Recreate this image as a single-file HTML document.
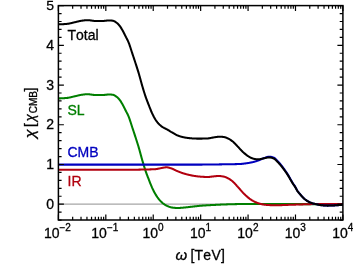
<!DOCTYPE html>
<html><head><meta charset="utf-8"><title>chart</title>
<style>html,body{margin:0;padding:0;background:#fff;overflow:hidden}svg{display:block;will-change:transform;opacity:0.999}</style>
</head><body>
<svg width="353" height="264" viewBox="0 0 353 264">
<line x1="58.4" y1="204.2" x2="342.9" y2="204.2" stroke="#a6a6a6" stroke-width="1.25"/>
<clipPath id="c"><rect x="58.4" y="5.6" width="284.5" height="214.4"/></clipPath>
<g clip-path="url(#c)" fill="none" stroke-linejoin="round" stroke-linecap="butt">
<path d="M58.40,98.40 L58.72,98.40 L59.03,98.40 L59.35,98.39 L59.67,98.39 L59.98,98.38 L60.30,98.37 L60.62,98.36 L60.93,98.35 L61.25,98.33 L61.56,98.32 L61.88,98.30 L62.20,98.29 L62.51,98.27 L62.83,98.25 L63.15,98.23 L63.46,98.21 L63.78,98.18 L64.10,98.16 L64.41,98.14 L64.73,98.11 L65.05,98.09 L65.36,98.06 L65.68,98.03 L66.00,98.01 L66.31,97.98 L66.63,97.95 L66.94,97.92 L67.26,97.89 L67.58,97.86 L67.89,97.82 L68.21,97.78 L68.53,97.73 L68.84,97.67 L69.16,97.61 L69.48,97.55 L69.79,97.48 L70.11,97.41 L70.43,97.34 L70.74,97.26 L71.06,97.19 L71.37,97.11 L71.69,97.03 L72.01,96.95 L72.32,96.87 L72.64,96.79 L72.96,96.71 L73.27,96.63 L73.59,96.55 L73.91,96.48 L74.22,96.41 L74.54,96.33 L74.86,96.27 L75.17,96.20 L75.49,96.13 L75.81,96.05 L76.12,95.98 L76.44,95.90 L76.75,95.83 L77.07,95.75 L77.39,95.67 L77.70,95.60 L78.02,95.52 L78.34,95.45 L78.65,95.37 L78.97,95.30 L79.29,95.23 L79.60,95.16 L79.92,95.09 L80.24,95.03 L80.55,94.97 L80.87,94.91 L81.19,94.85 L81.50,94.80 L81.82,94.75 L82.13,94.71 L82.45,94.67 L82.77,94.63 L83.08,94.58 L83.40,94.54 L83.72,94.50 L84.03,94.46 L84.35,94.42 L84.67,94.39 L84.98,94.35 L85.30,94.32 L85.62,94.29 L85.93,94.26 L86.25,94.24 L86.57,94.22 L86.88,94.21 L87.20,94.20 L87.51,94.20 L87.83,94.20 L88.15,94.22 L88.46,94.23 L88.78,94.26 L89.10,94.29 L89.41,94.32 L89.73,94.36 L90.05,94.40 L90.36,94.44 L90.68,94.49 L91.00,94.54 L91.31,94.59 L91.63,94.64 L91.95,94.68 L92.26,94.73 L92.58,94.78 L92.89,94.82 L93.21,94.86 L93.53,94.89 L93.84,94.93 L94.16,94.95 L94.48,94.98 L94.79,94.99 L95.11,95.00 L95.43,95.00 L95.74,95.00 L96.06,95.00 L96.38,95.00 L96.69,95.00 L97.01,95.00 L97.32,95.00 L97.64,95.00 L97.96,95.00 L98.27,95.00 L98.59,95.00 L98.91,95.00 L99.22,95.00 L99.54,95.00 L99.86,95.00 L100.17,95.00 L100.49,95.00 L100.81,95.00 L101.12,95.00 L101.44,95.00 L101.76,95.00 L102.07,95.00 L102.39,95.00 L102.70,95.00 L103.02,95.00 L103.34,94.99 L103.65,94.97 L103.97,94.95 L104.29,94.92 L104.60,94.89 L104.92,94.86 L105.24,94.82 L105.55,94.79 L105.87,94.75 L106.19,94.71 L106.50,94.67 L106.82,94.64 L107.14,94.61 L107.45,94.58 L107.77,94.55 L108.08,94.53 L108.40,94.51 L108.72,94.50 L109.03,94.50 L109.35,94.50 L109.67,94.51 L109.98,94.52 L110.30,94.53 L110.62,94.55 L110.93,94.57 L111.25,94.60 L111.57,94.63 L111.88,94.66 L112.20,94.69 L112.52,94.72 L112.83,94.76 L113.15,94.82 L113.46,94.91 L113.78,95.03 L114.10,95.18 L114.41,95.34 L114.73,95.52 L115.05,95.71 L115.36,95.92 L115.68,96.13 L116.00,96.35 L116.31,96.57 L116.63,96.79 L116.95,97.03 L117.26,97.30 L117.58,97.58 L117.89,97.89 L118.21,98.21 L118.53,98.55 L118.84,98.90 L119.16,99.27 L119.48,99.65 L119.79,100.04 L120.11,100.47 L120.43,100.92 L120.74,101.40 L121.06,101.90 L121.38,102.42 L121.69,102.96 L122.01,103.50 L122.33,104.05 L122.64,104.61 L122.96,105.17 L123.27,105.75 L123.59,106.36 L123.91,106.98 L124.22,107.61 L124.54,108.25 L124.86,108.89 L125.17,109.54 L125.49,110.18 L125.81,110.81 L126.12,111.44 L126.44,112.04 L126.76,112.64 L127.07,113.24 L127.39,113.85 L127.71,114.48 L128.02,115.15 L128.34,115.86 L128.65,116.62 L128.97,117.43 L129.29,118.28 L129.60,119.18 L129.92,120.11 L130.24,121.06 L130.55,122.04 L130.87,123.03 L131.19,124.03 L131.50,125.02 L131.82,126.01 L132.14,126.99 L132.45,127.96 L132.77,128.90 L133.09,129.85 L133.40,130.80 L133.72,131.76 L134.03,132.71 L134.35,133.67 L134.67,134.63 L134.98,135.60 L135.30,136.57 L135.62,137.55 L135.93,138.53 L136.25,139.51 L136.57,140.49 L136.88,141.47 L137.20,142.47 L137.52,143.47 L137.83,144.48 L138.15,145.51 L138.47,146.55 L138.78,147.61 L139.10,148.71 L139.41,149.83 L139.73,150.97 L140.05,152.13 L140.36,153.29 L140.68,154.46 L141.00,155.63 L141.31,156.80 L141.63,157.94 L141.95,159.08 L142.26,160.19 L142.58,161.27 L142.90,162.34 L143.21,163.40 L143.53,164.46 L143.84,165.51 L144.16,166.54 L144.48,167.56 L144.79,168.56 L145.11,169.54 L145.43,170.49 L145.74,171.42 L146.06,172.32 L146.38,173.20 L146.69,174.05 L147.01,174.90 L147.33,175.73 L147.64,176.55 L147.96,177.37 L148.28,178.18 L148.59,178.99 L148.91,179.82 L149.22,180.64 L149.54,181.46 L149.86,182.28 L150.17,183.09 L150.49,183.89 L150.81,184.69 L151.12,185.46 L151.44,186.22 L151.76,186.96 L152.07,187.68 L152.39,188.37 L152.71,189.03 L153.02,189.68 L153.34,190.32 L153.66,190.94 L153.97,191.55 L154.29,192.15 L154.60,192.73 L154.92,193.30 L155.24,193.85 L155.55,194.38 L155.87,194.90 L156.19,195.40 L156.50,195.89 L156.82,196.37 L157.14,196.83 L157.45,197.29 L157.77,197.73 L158.09,198.17 L158.40,198.59 L158.72,198.99 L159.04,199.39 L159.35,199.77 L159.67,200.13 L159.98,200.48 L160.30,200.82 L160.62,201.15 L160.93,201.47 L161.25,201.78 L161.57,202.09 L161.88,202.38 L162.20,202.66 L162.52,202.94 L162.83,203.20 L163.15,203.45 L163.47,203.69 L163.78,203.92 L164.10,204.15 L164.42,204.36 L164.73,204.58 L165.05,204.79 L165.36,204.99 L165.68,205.18 L166.00,205.36 L166.31,205.54 L166.63,205.70 L166.95,205.86 L167.26,206.00 L167.58,206.13 L167.90,206.26 L168.21,206.38 L168.53,206.50 L168.85,206.62 L169.16,206.74 L169.48,206.85 L169.79,206.96 L170.11,207.06 L170.43,207.15 L170.74,207.24 L171.06,207.33 L171.38,207.40 L171.69,207.47 L172.01,207.53 L172.33,207.58 L172.64,207.62 L172.96,207.66 L173.28,207.70 L173.59,207.73 L173.91,207.77 L174.23,207.80 L174.54,207.84 L174.86,207.87 L175.17,207.89 L175.49,207.92 L175.81,207.94 L176.12,207.96 L176.44,207.98 L176.76,207.99 L177.07,208.00 L177.39,208.00 L177.71,208.00 L178.02,208.00 L178.34,207.99 L178.66,207.98 L178.97,207.97 L179.29,207.95 L179.61,207.93 L179.92,207.91 L180.24,207.89 L180.55,207.87 L180.87,207.84 L181.19,207.82 L181.50,207.79 L181.82,207.77 L182.14,207.74 L182.45,207.71 L182.77,207.68 L183.09,207.66 L183.40,207.63 L183.72,207.60 L184.04,207.58 L184.35,207.55 L184.67,207.52 L184.99,207.49 L185.30,207.45 L185.62,207.42 L185.93,207.38 L186.25,207.35 L186.57,207.31 L186.88,207.27 L187.20,207.23 L187.52,207.19 L187.83,207.15 L188.15,207.12 L188.47,207.08 L188.78,207.04 L189.10,207.00 L189.42,206.97 L189.73,206.93 L190.05,206.89 L190.36,206.86 L190.68,206.83 L191.00,206.79 L191.31,206.75 L191.63,206.72 L191.95,206.68 L192.26,206.65 L192.58,206.61 L192.90,206.58 L193.21,206.54 L193.53,206.50 L193.85,206.47 L194.16,206.43 L194.48,206.39 L194.80,206.36 L195.11,206.32 L195.43,206.29 L195.74,206.25 L196.06,206.22 L196.38,206.18 L196.69,206.15 L197.01,206.11 L197.33,206.08 L197.64,206.04 L197.96,206.01 L198.28,205.98 L198.59,205.95 L198.91,205.91 L199.23,205.88 L199.54,205.85 L199.86,205.82 L200.18,205.79 L200.49,205.76 L200.81,205.74 L201.12,205.71 L201.44,205.68 L201.76,205.66 L202.07,205.63 L202.39,205.61 L202.71,205.59 L203.02,205.56 L203.34,205.54 L203.66,205.52 L203.97,205.50 L204.29,205.48 L204.61,205.46 L204.92,205.44 L205.24,205.42 L205.56,205.40 L205.87,205.38 L206.19,205.36 L206.50,205.34 L206.82,205.32 L207.14,205.30 L207.45,205.29 L207.77,205.27 L208.09,205.25 L208.40,205.23 L208.72,205.22 L209.04,205.20 L209.35,205.18 L209.67,205.17 L209.99,205.15 L210.30,205.13 L210.62,205.12 L210.94,205.10 L211.25,205.09 L211.57,205.07 L211.88,205.05 L212.20,205.04 L212.52,205.02 L212.83,205.01 L213.15,204.99 L213.47,204.98 L213.78,204.96 L214.10,204.94 L214.42,204.93 L214.73,204.91 L215.05,204.90 L215.37,204.88 L215.68,204.87 L216.00,204.85 L216.31,204.83 L216.63,204.82 L216.95,204.80 L217.26,204.78 L217.58,204.77 L217.90,204.75 L218.21,204.74 L218.53,204.72 L218.85,204.70 L219.16,204.69 L219.48,204.67 L219.80,204.66 L220.11,204.64 L220.43,204.63 L220.75,204.61 L221.06,204.60 L221.38,204.58 L221.69,204.57 L222.01,204.55 L222.33,204.54 L222.64,204.52 L222.96,204.51 L223.28,204.50 L223.59,204.48 L223.91,204.47 L224.23,204.46 L224.54,204.45 L224.86,204.44 L225.18,204.43 L225.49,204.42 L225.81,204.41 L226.13,204.40 L226.44,204.39 L226.76,204.38 L227.07,204.37 L227.39,204.36 L227.71,204.35 L228.02,204.34 L228.34,204.33 L228.66,204.32 L228.97,204.31 L229.29,204.30 L229.61,204.29 L229.92,204.28 L230.24,204.27 L230.56,204.26 L230.87,204.25 L231.19,204.25 L231.51,204.24 L231.82,204.23 L232.14,204.22 L232.45,204.21 L232.77,204.20 L233.09,204.19 L233.40,204.18 L233.72,204.17 L234.04,204.17 L234.35,204.16 L234.67,204.15 L234.99,204.14 L235.30,204.13 L235.62,204.13 L235.94,204.12 L236.25,204.11 L236.57,204.10 L236.88,204.10 L237.20,204.09 L237.52,204.08 L237.83,204.08 L238.15,204.07 L238.47,204.07 L238.78,204.06 L239.10,204.05 L239.42,204.05 L239.73,204.04 L240.05,204.04 L240.37,204.03 L240.68,204.03 L241.00,204.03 L241.32,204.02 L241.63,204.02 L241.95,204.02 L242.26,204.01 L242.58,204.01 L242.90,204.01 L243.21,204.01 L243.53,204.00 L243.85,204.00 L244.16,204.00 L244.48,204.00 L244.80,204.00 L245.11,204.00 L245.43,204.00 L245.75,204.00 L246.06,204.00 L246.38,204.00 L246.70,204.00 L247.01,204.00 L247.33,204.00 L247.64,204.00 L247.96,204.00 L248.28,204.00 L248.59,204.00 L248.91,204.00 L249.23,204.00 L249.54,204.00 L249.86,204.00 L250.18,204.00 L250.49,204.00 L250.81,204.00 L251.13,204.00 L251.44,204.00 L251.76,204.00 L252.08,204.00 L252.39,204.00 L252.71,204.00 L253.02,204.00 L253.34,204.00 L253.66,204.00 L253.97,204.00 L254.29,204.00 L254.61,204.00 L254.92,204.00 L255.24,204.00 L255.56,204.00 L255.87,204.00 L256.19,204.00 L256.51,204.00 L256.82,204.00 L257.14,204.00 L257.46,204.00 L257.77,204.00 L258.09,204.00 L258.40,204.00 L258.72,204.00 L259.04,204.00 L259.35,204.00 L259.67,204.00 L259.99,204.00 L260.30,204.00 L260.62,204.00 L260.94,204.00 L261.25,204.00 L261.57,204.00 L261.89,204.00 L262.20,204.00 L262.52,204.00 L262.83,204.00 L263.15,204.00 L263.47,204.00 L263.78,204.00 L264.10,204.00 L264.42,204.00 L264.73,204.00 L265.05,204.00 L265.37,204.00 L265.68,204.00 L266.00,204.00 L266.32,204.00 L266.63,204.00 L266.95,204.00 L267.27,204.00 L267.58,204.00 L267.90,204.00 L268.21,204.00 L268.53,204.00 L268.85,204.00 L269.16,204.00 L269.48,204.00 L269.80,204.00 L270.11,204.00 L270.43,204.00 L270.75,204.00 L271.06,204.00 L271.38,204.00 L271.70,204.00 L272.01,204.00 L272.33,204.00 L272.65,204.00 L272.96,204.00 L273.28,204.00 L273.59,204.00 L273.91,204.00 L274.23,204.00 L274.54,204.00 L274.86,204.01 L275.18,204.01 L275.49,204.01 L275.81,204.01 L276.13,204.01 L276.44,204.01 L276.76,204.01 L277.08,204.01 L277.39,204.01 L277.71,204.01 L278.03,204.01 L278.34,204.01 L278.66,204.02 L278.97,204.02 L279.29,204.02 L279.61,204.02 L279.92,204.02 L280.24,204.02 L280.56,204.02 L280.87,204.02 L281.19,204.02 L281.51,204.03 L281.82,204.03 L282.14,204.03 L282.46,204.03 L282.77,204.03 L283.09,204.03 L283.41,204.03 L283.72,204.03 L284.04,204.04 L284.35,204.04 L284.67,204.04 L284.99,204.04 L285.30,204.04 L285.62,204.04 L285.94,204.04 L286.25,204.05 L286.57,204.05 L286.89,204.05 L287.20,204.05 L287.52,204.05 L287.84,204.05 L288.15,204.05 L288.47,204.05 L288.78,204.06 L289.10,204.06 L289.42,204.06 L289.73,204.06 L290.05,204.06 L290.37,204.06 L290.68,204.06 L291.00,204.07 L291.32,204.07 L291.63,204.07 L291.95,204.07 L292.27,204.07 L292.58,204.07 L292.90,204.07 L293.22,204.08 L293.53,204.08 L293.85,204.08 L294.16,204.08 L294.48,204.08 L294.80,204.08 L295.11,204.08 L295.43,204.08 L295.75,204.09 L296.06,204.09 L296.38,204.09 L296.70,204.09 L297.01,204.09 L297.33,204.09 L297.65,204.09 L297.96,204.09 L298.28,204.09 L298.60,204.10 L298.91,204.10 L299.23,204.10 L299.54,204.10 L299.86,204.10 L300.18,204.10 L300.49,204.10 L300.81,204.10 L301.13,204.10 L301.44,204.10 L301.76,204.10 L302.08,204.11 L302.39,204.11 L302.71,204.11 L303.03,204.11 L303.34,204.11 L303.66,204.11 L303.98,204.11 L304.29,204.11 L304.61,204.11 L304.92,204.11 L305.24,204.11 L305.56,204.12 L305.87,204.12 L306.19,204.12 L306.51,204.12 L306.82,204.12 L307.14,204.12 L307.46,204.12 L307.77,204.12 L308.09,204.12 L308.41,204.12 L308.72,204.12 L309.04,204.12 L309.35,204.13 L309.67,204.13 L309.99,204.13 L310.30,204.13 L310.62,204.13 L310.94,204.13 L311.25,204.13 L311.57,204.13 L311.89,204.13 L312.20,204.13 L312.52,204.13 L312.84,204.13 L313.15,204.14 L313.47,204.14 L313.79,204.14 L314.10,204.14 L314.42,204.14 L314.73,204.14 L315.05,204.14 L315.37,204.14 L315.68,204.14 L316.00,204.14 L316.32,204.14 L316.63,204.14 L316.95,204.14 L317.27,204.15 L317.58,204.15 L317.90,204.15 L318.22,204.15 L318.53,204.15 L318.85,204.15 L319.17,204.15 L319.48,204.15 L319.80,204.15 L320.11,204.15 L320.43,204.15 L320.75,204.15 L321.06,204.15 L321.38,204.16 L321.70,204.16 L322.01,204.16 L322.33,204.16 L322.65,204.16 L322.96,204.16 L323.28,204.16 L323.60,204.16 L323.91,204.16 L324.23,204.16 L324.55,204.16 L324.86,204.16 L325.18,204.16 L325.49,204.16 L325.81,204.17 L326.13,204.17 L326.44,204.17 L326.76,204.17 L327.08,204.17 L327.39,204.17 L327.71,204.17 L328.03,204.17 L328.34,204.17 L328.66,204.17 L328.98,204.17 L329.29,204.17 L329.61,204.17 L329.93,204.17 L330.24,204.18 L330.56,204.18 L330.87,204.18 L331.19,204.18 L331.51,204.18 L331.82,204.18 L332.14,204.18 L332.46,204.18 L332.77,204.18 L333.09,204.18 L333.41,204.18 L333.72,204.18 L334.04,204.18 L334.36,204.18 L334.67,204.18 L334.99,204.19 L335.30,204.19 L335.62,204.19 L335.94,204.19 L336.25,204.19 L336.57,204.19 L336.89,204.19 L337.20,204.19 L337.52,204.19 L337.84,204.19 L338.15,204.19 L338.47,204.19 L338.79,204.19 L339.10,204.19 L339.42,204.19 L339.74,204.19 L340.05,204.19 L340.37,204.20 L340.68,204.20 L341.00,204.20 L341.32,204.20 L341.63,204.20 L341.95,204.20 L342.27,204.20 L342.58,204.20 L342.90,204.20" stroke="#007f00" stroke-width="2.05"/>
<path d="M58.40,169.75 L58.72,169.75 L59.03,169.75 L59.35,169.75 L59.67,169.75 L59.98,169.75 L60.30,169.75 L60.62,169.75 L60.93,169.75 L61.25,169.75 L61.56,169.75 L61.88,169.75 L62.20,169.75 L62.51,169.75 L62.83,169.75 L63.15,169.75 L63.46,169.75 L63.78,169.75 L64.10,169.75 L64.41,169.75 L64.73,169.75 L65.05,169.75 L65.36,169.75 L65.68,169.75 L66.00,169.75 L66.31,169.75 L66.63,169.75 L66.94,169.75 L67.26,169.75 L67.58,169.75 L67.89,169.75 L68.21,169.75 L68.53,169.75 L68.84,169.75 L69.16,169.75 L69.48,169.75 L69.79,169.75 L70.11,169.75 L70.43,169.75 L70.74,169.75 L71.06,169.75 L71.37,169.75 L71.69,169.75 L72.01,169.75 L72.32,169.75 L72.64,169.75 L72.96,169.75 L73.27,169.75 L73.59,169.75 L73.91,169.75 L74.22,169.75 L74.54,169.75 L74.86,169.75 L75.17,169.75 L75.49,169.75 L75.81,169.75 L76.12,169.75 L76.44,169.75 L76.75,169.75 L77.07,169.75 L77.39,169.75 L77.70,169.75 L78.02,169.75 L78.34,169.75 L78.65,169.75 L78.97,169.75 L79.29,169.75 L79.60,169.75 L79.92,169.75 L80.24,169.75 L80.55,169.75 L80.87,169.75 L81.19,169.75 L81.50,169.75 L81.82,169.75 L82.13,169.75 L82.45,169.75 L82.77,169.75 L83.08,169.75 L83.40,169.75 L83.72,169.75 L84.03,169.75 L84.35,169.75 L84.67,169.75 L84.98,169.75 L85.30,169.75 L85.62,169.75 L85.93,169.75 L86.25,169.75 L86.57,169.75 L86.88,169.75 L87.20,169.75 L87.51,169.75 L87.83,169.75 L88.15,169.75 L88.46,169.75 L88.78,169.75 L89.10,169.75 L89.41,169.75 L89.73,169.75 L90.05,169.75 L90.36,169.75 L90.68,169.75 L91.00,169.75 L91.31,169.75 L91.63,169.75 L91.95,169.75 L92.26,169.75 L92.58,169.75 L92.89,169.75 L93.21,169.75 L93.53,169.75 L93.84,169.75 L94.16,169.75 L94.48,169.75 L94.79,169.75 L95.11,169.75 L95.43,169.75 L95.74,169.75 L96.06,169.75 L96.38,169.75 L96.69,169.75 L97.01,169.75 L97.32,169.75 L97.64,169.75 L97.96,169.75 L98.27,169.75 L98.59,169.75 L98.91,169.75 L99.22,169.75 L99.54,169.75 L99.86,169.75 L100.17,169.75 L100.49,169.75 L100.81,169.75 L101.12,169.75 L101.44,169.75 L101.76,169.75 L102.07,169.75 L102.39,169.75 L102.70,169.75 L103.02,169.75 L103.34,169.75 L103.65,169.75 L103.97,169.75 L104.29,169.75 L104.60,169.75 L104.92,169.75 L105.24,169.75 L105.55,169.75 L105.87,169.75 L106.19,169.75 L106.50,169.75 L106.82,169.75 L107.14,169.75 L107.45,169.75 L107.77,169.75 L108.08,169.75 L108.40,169.75 L108.72,169.75 L109.03,169.75 L109.35,169.75 L109.67,169.75 L109.98,169.75 L110.30,169.75 L110.62,169.75 L110.93,169.75 L111.25,169.75 L111.57,169.75 L111.88,169.75 L112.20,169.75 L112.52,169.75 L112.83,169.75 L113.15,169.75 L113.46,169.75 L113.78,169.75 L114.10,169.75 L114.41,169.75 L114.73,169.75 L115.05,169.75 L115.36,169.75 L115.68,169.75 L116.00,169.75 L116.31,169.75 L116.63,169.75 L116.95,169.75 L117.26,169.75 L117.58,169.75 L117.89,169.75 L118.21,169.75 L118.53,169.75 L118.84,169.75 L119.16,169.75 L119.48,169.75 L119.79,169.75 L120.11,169.75 L120.43,169.75 L120.74,169.75 L121.06,169.75 L121.38,169.75 L121.69,169.75 L122.01,169.75 L122.33,169.75 L122.64,169.75 L122.96,169.75 L123.27,169.75 L123.59,169.75 L123.91,169.75 L124.22,169.75 L124.54,169.75 L124.86,169.75 L125.17,169.75 L125.49,169.75 L125.81,169.75 L126.12,169.75 L126.44,169.75 L126.76,169.75 L127.07,169.75 L127.39,169.75 L127.71,169.75 L128.02,169.75 L128.34,169.75 L128.65,169.75 L128.97,169.75 L129.29,169.75 L129.60,169.75 L129.92,169.75 L130.24,169.75 L130.55,169.75 L130.87,169.75 L131.19,169.75 L131.50,169.75 L131.82,169.74 L132.14,169.74 L132.45,169.74 L132.77,169.74 L133.09,169.73 L133.40,169.73 L133.72,169.73 L134.03,169.72 L134.35,169.72 L134.67,169.71 L134.98,169.71 L135.30,169.70 L135.62,169.70 L135.93,169.69 L136.25,169.69 L136.57,169.68 L136.88,169.68 L137.20,169.67 L137.52,169.67 L137.83,169.66 L138.15,169.65 L138.47,169.65 L138.78,169.64 L139.10,169.63 L139.41,169.63 L139.73,169.62 L140.05,169.61 L140.36,169.61 L140.68,169.60 L141.00,169.59 L141.31,169.58 L141.63,169.58 L141.95,169.57 L142.26,169.56 L142.58,169.55 L142.90,169.55 L143.21,169.54 L143.53,169.53 L143.84,169.53 L144.16,169.52 L144.48,169.51 L144.79,169.50 L145.11,169.50 L145.43,169.49 L145.74,169.48 L146.06,169.48 L146.38,169.47 L146.69,169.46 L147.01,169.46 L147.33,169.45 L147.64,169.44 L147.96,169.44 L148.28,169.43 L148.59,169.42 L148.91,169.42 L149.22,169.41 L149.54,169.40 L149.86,169.39 L150.17,169.39 L150.49,169.38 L150.81,169.37 L151.12,169.36 L151.44,169.35 L151.76,169.34 L152.07,169.33 L152.39,169.32 L152.71,169.31 L153.02,169.29 L153.34,169.28 L153.66,169.27 L153.97,169.25 L154.29,169.24 L154.60,169.22 L154.92,169.20 L155.24,169.18 L155.55,169.16 L155.87,169.12 L156.19,169.08 L156.50,169.04 L156.82,168.99 L157.14,168.93 L157.45,168.87 L157.77,168.81 L158.09,168.74 L158.40,168.68 L158.72,168.61 L159.04,168.54 L159.35,168.47 L159.67,168.40 L159.98,168.34 L160.30,168.27 L160.62,168.21 L160.93,168.15 L161.25,168.10 L161.57,168.05 L161.88,167.99 L162.20,167.93 L162.52,167.86 L162.83,167.80 L163.15,167.74 L163.47,167.67 L163.78,167.61 L164.10,167.55 L164.42,167.50 L164.73,167.45 L165.05,167.40 L165.36,167.36 L165.68,167.33 L166.00,167.31 L166.31,167.30 L166.63,167.30 L166.95,167.32 L167.26,167.35 L167.58,167.39 L167.90,167.44 L168.21,167.51 L168.53,167.58 L168.85,167.66 L169.16,167.75 L169.48,167.85 L169.79,167.94 L170.11,168.04 L170.43,168.14 L170.74,168.24 L171.06,168.34 L171.38,168.44 L171.69,168.54 L172.01,168.66 L172.33,168.78 L172.64,168.91 L172.96,169.05 L173.28,169.19 L173.59,169.34 L173.91,169.49 L174.23,169.65 L174.54,169.80 L174.86,169.96 L175.17,170.12 L175.49,170.28 L175.81,170.43 L176.12,170.59 L176.44,170.74 L176.76,170.88 L177.07,171.02 L177.39,171.16 L177.71,171.28 L178.02,171.41 L178.34,171.54 L178.66,171.66 L178.97,171.79 L179.29,171.92 L179.61,172.04 L179.92,172.16 L180.24,172.28 L180.55,172.40 L180.87,172.52 L181.19,172.64 L181.50,172.75 L181.82,172.87 L182.14,172.98 L182.45,173.08 L182.77,173.19 L183.09,173.29 L183.40,173.39 L183.72,173.49 L184.04,173.59 L184.35,173.68 L184.67,173.77 L184.99,173.86 L185.30,173.95 L185.62,174.04 L185.93,174.13 L186.25,174.21 L186.57,174.29 L186.88,174.38 L187.20,174.46 L187.52,174.53 L187.83,174.61 L188.15,174.69 L188.47,174.76 L188.78,174.83 L189.10,174.91 L189.42,174.98 L189.73,175.04 L190.05,175.11 L190.36,175.18 L190.68,175.24 L191.00,175.31 L191.31,175.37 L191.63,175.43 L191.95,175.49 L192.26,175.56 L192.58,175.62 L192.90,175.67 L193.21,175.73 L193.53,175.79 L193.85,175.84 L194.16,175.90 L194.48,175.95 L194.80,176.00 L195.11,176.04 L195.43,176.09 L195.74,176.13 L196.06,176.18 L196.38,176.22 L196.69,176.25 L197.01,176.29 L197.33,176.33 L197.64,176.37 L197.96,176.40 L198.28,176.44 L198.59,176.47 L198.91,176.51 L199.23,176.54 L199.54,176.57 L199.86,176.60 L200.18,176.63 L200.49,176.66 L200.81,176.69 L201.12,176.71 L201.44,176.73 L201.76,176.76 L202.07,176.78 L202.39,176.79 L202.71,176.81 L203.02,176.83 L203.34,176.84 L203.66,176.86 L203.97,176.88 L204.29,176.89 L204.61,176.91 L204.92,176.92 L205.24,176.94 L205.56,176.95 L205.87,176.96 L206.19,176.97 L206.50,176.98 L206.82,176.99 L207.14,176.99 L207.45,177.00 L207.77,177.00 L208.09,177.00 L208.40,176.99 L208.72,176.97 L209.04,176.95 L209.35,176.92 L209.67,176.88 L209.99,176.84 L210.30,176.80 L210.62,176.75 L210.94,176.70 L211.25,176.66 L211.57,176.61 L211.88,176.57 L212.20,176.53 L212.52,176.50 L212.83,176.47 L213.15,176.44 L213.47,176.40 L213.78,176.37 L214.10,176.34 L214.42,176.30 L214.73,176.27 L215.05,176.23 L215.37,176.20 L215.68,176.17 L216.00,176.14 L216.31,176.11 L216.63,176.09 L216.95,176.07 L217.26,176.05 L217.58,176.03 L217.90,176.02 L218.21,176.01 L218.53,176.00 L218.85,176.00 L219.16,176.01 L219.48,176.02 L219.80,176.04 L220.11,176.06 L220.43,176.09 L220.75,176.12 L221.06,176.16 L221.38,176.20 L221.69,176.25 L222.01,176.29 L222.33,176.35 L222.64,176.40 L222.96,176.46 L223.28,176.51 L223.59,176.57 L223.91,176.63 L224.23,176.70 L224.54,176.79 L224.86,176.89 L225.18,176.99 L225.49,177.11 L225.81,177.24 L226.13,177.37 L226.44,177.51 L226.76,177.66 L227.07,177.82 L227.39,177.97 L227.71,178.13 L228.02,178.30 L228.34,178.46 L228.66,178.63 L228.97,178.80 L229.29,178.99 L229.61,179.19 L229.92,179.39 L230.24,179.60 L230.56,179.83 L230.87,180.06 L231.19,180.30 L231.51,180.54 L231.82,180.79 L232.14,181.05 L232.45,181.31 L232.77,181.58 L233.09,181.85 L233.40,182.14 L233.72,182.44 L234.04,182.75 L234.35,183.07 L234.67,183.40 L234.99,183.74 L235.30,184.08 L235.62,184.43 L235.94,184.79 L236.25,185.14 L236.57,185.50 L236.88,185.86 L237.20,186.21 L237.52,186.56 L237.83,186.91 L238.15,187.25 L238.47,187.60 L238.78,187.95 L239.10,188.30 L239.42,188.66 L239.73,189.02 L240.05,189.39 L240.37,189.75 L240.68,190.12 L241.00,190.48 L241.32,190.84 L241.63,191.20 L241.95,191.56 L242.26,191.92 L242.58,192.27 L242.90,192.61 L243.21,192.95 L243.53,193.28 L243.85,193.61 L244.16,193.92 L244.48,194.23 L244.80,194.53 L245.11,194.83 L245.43,195.13 L245.75,195.43 L246.06,195.72 L246.38,196.01 L246.70,196.30 L247.01,196.58 L247.33,196.86 L247.64,197.13 L247.96,197.40 L248.28,197.67 L248.59,197.93 L248.91,198.18 L249.23,198.42 L249.54,198.66 L249.86,198.89 L250.18,199.12 L250.49,199.33 L250.81,199.54 L251.13,199.74 L251.44,199.94 L251.76,200.13 L252.08,200.32 L252.39,200.51 L252.71,200.70 L253.02,200.88 L253.34,201.05 L253.66,201.23 L253.97,201.39 L254.29,201.56 L254.61,201.72 L254.92,201.87 L255.24,202.02 L255.56,202.16 L255.87,202.30 L256.19,202.44 L256.51,202.56 L256.82,202.68 L257.14,202.80 L257.46,202.91 L257.77,203.03 L258.09,203.14 L258.40,203.25 L258.72,203.35 L259.04,203.46 L259.35,203.56 L259.67,203.66 L259.99,203.76 L260.30,203.85 L260.62,203.94 L260.94,204.02 L261.25,204.10 L261.57,204.18 L261.89,204.25 L262.20,204.32 L262.52,204.38 L262.83,204.44 L263.15,204.49 L263.47,204.53 L263.78,204.57 L264.10,204.62 L264.42,204.66 L264.73,204.70 L265.05,204.74 L265.37,204.77 L265.68,204.81 L266.00,204.84 L266.32,204.88 L266.63,204.91 L266.95,204.94 L267.27,204.96 L267.58,204.99 L267.90,205.01 L268.21,205.03 L268.53,205.05 L268.85,205.07 L269.16,205.09 L269.48,205.10 L269.80,205.11 L270.11,205.12 L270.43,205.13 L270.75,205.15 L271.06,205.16 L271.38,205.17 L271.70,205.18 L272.01,205.19 L272.33,205.20 L272.65,205.21 L272.96,205.21 L273.28,205.22 L273.59,205.23 L273.91,205.23 L274.23,205.24 L274.54,205.24 L274.86,205.25 L275.18,205.25 L275.49,205.25 L275.81,205.25 L276.13,205.25 L276.44,205.25 L276.76,205.25 L277.08,205.24 L277.39,205.24 L277.71,205.23 L278.03,205.23 L278.34,205.22 L278.66,205.22 L278.97,205.21 L279.29,205.20 L279.61,205.19 L279.92,205.18 L280.24,205.18 L280.56,205.17 L280.87,205.16 L281.19,205.14 L281.51,205.13 L281.82,205.12 L282.14,205.11 L282.46,205.10 L282.77,205.09 L283.09,205.07 L283.41,205.06 L283.72,205.05 L284.04,205.04 L284.35,205.02 L284.67,205.01 L284.99,205.00 L285.30,204.98 L285.62,204.97 L285.94,204.96 L286.25,204.94 L286.57,204.93 L286.89,204.92 L287.20,204.90 L287.52,204.89 L287.84,204.88 L288.15,204.87 L288.47,204.85 L288.78,204.84 L289.10,204.83 L289.42,204.82 L289.73,204.81 L290.05,204.80 L290.37,204.79 L290.68,204.78 L291.00,204.77 L291.32,204.76 L291.63,204.75 L291.95,204.74 L292.27,204.72 L292.58,204.71 L292.90,204.70 L293.22,204.69 L293.53,204.68 L293.85,204.67 L294.16,204.66 L294.48,204.65 L294.80,204.64 L295.11,204.63 L295.43,204.62 L295.75,204.61 L296.06,204.59 L296.38,204.58 L296.70,204.57 L297.01,204.56 L297.33,204.55 L297.65,204.54 L297.96,204.53 L298.28,204.52 L298.60,204.51 L298.91,204.50 L299.23,204.49 L299.54,204.47 L299.86,204.46 L300.18,204.45 L300.49,204.44 L300.81,204.43 L301.13,204.42 L301.44,204.41 L301.76,204.40 L302.08,204.39 L302.39,204.38 L302.71,204.37 L303.03,204.36 L303.34,204.35 L303.66,204.34 L303.98,204.33 L304.29,204.32 L304.61,204.31 L304.92,204.30 L305.24,204.29 L305.56,204.28 L305.87,204.27 L306.19,204.26 L306.51,204.25 L306.82,204.24 L307.14,204.23 L307.46,204.22 L307.77,204.21 L308.09,204.20 L308.41,204.19 L308.72,204.18 L309.04,204.16 L309.35,204.15 L309.67,204.14 L309.99,204.13 L310.30,204.12 L310.62,204.11 L310.94,204.10 L311.25,204.09 L311.57,204.08 L311.89,204.06 L312.20,204.05 L312.52,204.04 L312.84,204.03 L313.15,204.02 L313.47,204.01 L313.79,204.00 L314.10,204.00 L314.42,203.99 L314.73,203.98 L315.05,203.97 L315.37,203.96 L315.68,203.95 L316.00,203.95 L316.32,203.94 L316.63,203.93 L316.95,203.93 L317.27,203.92 L317.58,203.92 L317.90,203.91 L318.22,203.91 L318.53,203.91 L318.85,203.90 L319.17,203.90 L319.48,203.90 L319.80,203.90 L320.11,203.90 L320.43,203.90 L320.75,203.90 L321.06,203.90 L321.38,203.90 L321.70,203.90 L322.01,203.90 L322.33,203.90 L322.65,203.90 L322.96,203.90 L323.28,203.90 L323.60,203.90 L323.91,203.90 L324.23,203.90 L324.55,203.90 L324.86,203.90 L325.18,203.90 L325.49,203.90 L325.81,203.90 L326.13,203.90 L326.44,203.90 L326.76,203.90 L327.08,203.90 L327.39,203.90 L327.71,203.90 L328.03,203.90 L328.34,203.90 L328.66,203.90 L328.98,203.90 L329.29,203.90 L329.61,203.90 L329.93,203.90 L330.24,203.90 L330.56,203.90 L330.87,203.90 L331.19,203.90 L331.51,203.90 L331.82,203.90 L332.14,203.90 L332.46,203.90 L332.77,203.90 L333.09,203.90 L333.41,203.90 L333.72,203.90 L334.04,203.90 L334.36,203.90 L334.67,203.90 L334.99,203.90 L335.30,203.90 L335.62,203.90 L335.94,203.90 L336.25,203.91 L336.57,203.91 L336.89,203.92 L337.20,203.92 L337.52,203.93 L337.84,203.94 L338.15,203.94 L338.47,203.95 L338.79,203.96 L339.10,203.97 L339.42,203.98 L339.74,203.99 L340.05,204.00 L340.37,204.01 L340.68,204.02 L341.00,204.03 L341.32,204.04 L341.63,204.06 L341.95,204.07 L342.27,204.08 L342.58,204.09 L342.90,204.10" stroke="#b2000f" stroke-width="2.05"/>
<path d="M58.40,164.60 L58.72,164.60 L59.03,164.60 L59.35,164.60 L59.67,164.60 L59.98,164.60 L60.30,164.60 L60.62,164.60 L60.93,164.60 L61.25,164.60 L61.56,164.60 L61.88,164.60 L62.20,164.60 L62.51,164.60 L62.83,164.60 L63.15,164.60 L63.46,164.60 L63.78,164.60 L64.10,164.60 L64.41,164.60 L64.73,164.60 L65.05,164.60 L65.36,164.60 L65.68,164.60 L66.00,164.60 L66.31,164.60 L66.63,164.60 L66.94,164.60 L67.26,164.60 L67.58,164.60 L67.89,164.60 L68.21,164.60 L68.53,164.60 L68.84,164.60 L69.16,164.60 L69.48,164.60 L69.79,164.60 L70.11,164.60 L70.43,164.60 L70.74,164.60 L71.06,164.60 L71.37,164.60 L71.69,164.60 L72.01,164.60 L72.32,164.60 L72.64,164.60 L72.96,164.60 L73.27,164.60 L73.59,164.60 L73.91,164.60 L74.22,164.60 L74.54,164.60 L74.86,164.60 L75.17,164.60 L75.49,164.60 L75.81,164.60 L76.12,164.60 L76.44,164.60 L76.75,164.60 L77.07,164.60 L77.39,164.60 L77.70,164.60 L78.02,164.60 L78.34,164.60 L78.65,164.60 L78.97,164.60 L79.29,164.60 L79.60,164.60 L79.92,164.60 L80.24,164.60 L80.55,164.60 L80.87,164.60 L81.19,164.60 L81.50,164.60 L81.82,164.60 L82.13,164.60 L82.45,164.60 L82.77,164.60 L83.08,164.60 L83.40,164.60 L83.72,164.60 L84.03,164.60 L84.35,164.60 L84.67,164.60 L84.98,164.60 L85.30,164.60 L85.62,164.60 L85.93,164.60 L86.25,164.60 L86.57,164.60 L86.88,164.60 L87.20,164.60 L87.51,164.60 L87.83,164.60 L88.15,164.60 L88.46,164.60 L88.78,164.60 L89.10,164.60 L89.41,164.60 L89.73,164.60 L90.05,164.60 L90.36,164.60 L90.68,164.60 L91.00,164.60 L91.31,164.60 L91.63,164.60 L91.95,164.60 L92.26,164.60 L92.58,164.60 L92.89,164.60 L93.21,164.60 L93.53,164.60 L93.84,164.60 L94.16,164.60 L94.48,164.60 L94.79,164.60 L95.11,164.60 L95.43,164.60 L95.74,164.60 L96.06,164.60 L96.38,164.60 L96.69,164.60 L97.01,164.60 L97.32,164.60 L97.64,164.60 L97.96,164.60 L98.27,164.60 L98.59,164.60 L98.91,164.60 L99.22,164.60 L99.54,164.60 L99.86,164.60 L100.17,164.60 L100.49,164.60 L100.81,164.60 L101.12,164.60 L101.44,164.60 L101.76,164.60 L102.07,164.60 L102.39,164.60 L102.70,164.60 L103.02,164.60 L103.34,164.60 L103.65,164.60 L103.97,164.60 L104.29,164.60 L104.60,164.60 L104.92,164.60 L105.24,164.60 L105.55,164.60 L105.87,164.60 L106.19,164.60 L106.50,164.60 L106.82,164.60 L107.14,164.60 L107.45,164.60 L107.77,164.60 L108.08,164.60 L108.40,164.60 L108.72,164.60 L109.03,164.60 L109.35,164.60 L109.67,164.60 L109.98,164.60 L110.30,164.60 L110.62,164.60 L110.93,164.60 L111.25,164.60 L111.57,164.60 L111.88,164.60 L112.20,164.60 L112.52,164.60 L112.83,164.60 L113.15,164.60 L113.46,164.60 L113.78,164.60 L114.10,164.60 L114.41,164.60 L114.73,164.60 L115.05,164.60 L115.36,164.60 L115.68,164.60 L116.00,164.60 L116.31,164.60 L116.63,164.60 L116.95,164.60 L117.26,164.60 L117.58,164.60 L117.89,164.60 L118.21,164.60 L118.53,164.60 L118.84,164.60 L119.16,164.60 L119.48,164.60 L119.79,164.60 L120.11,164.60 L120.43,164.60 L120.74,164.60 L121.06,164.60 L121.38,164.60 L121.69,164.60 L122.01,164.60 L122.33,164.60 L122.64,164.60 L122.96,164.60 L123.27,164.60 L123.59,164.60 L123.91,164.60 L124.22,164.60 L124.54,164.60 L124.86,164.60 L125.17,164.60 L125.49,164.60 L125.81,164.60 L126.12,164.60 L126.44,164.60 L126.76,164.60 L127.07,164.60 L127.39,164.60 L127.71,164.60 L128.02,164.60 L128.34,164.60 L128.65,164.60 L128.97,164.60 L129.29,164.60 L129.60,164.60 L129.92,164.60 L130.24,164.60 L130.55,164.60 L130.87,164.60 L131.19,164.60 L131.50,164.60 L131.82,164.60 L132.14,164.60 L132.45,164.60 L132.77,164.60 L133.09,164.60 L133.40,164.60 L133.72,164.60 L134.03,164.60 L134.35,164.60 L134.67,164.60 L134.98,164.60 L135.30,164.60 L135.62,164.60 L135.93,164.60 L136.25,164.60 L136.57,164.60 L136.88,164.60 L137.20,164.60 L137.52,164.60 L137.83,164.60 L138.15,164.60 L138.47,164.60 L138.78,164.60 L139.10,164.60 L139.41,164.60 L139.73,164.60 L140.05,164.60 L140.36,164.60 L140.68,164.60 L141.00,164.60 L141.31,164.60 L141.63,164.60 L141.95,164.60 L142.26,164.60 L142.58,164.60 L142.90,164.60 L143.21,164.60 L143.53,164.60 L143.84,164.60 L144.16,164.60 L144.48,164.60 L144.79,164.60 L145.11,164.60 L145.43,164.60 L145.74,164.60 L146.06,164.60 L146.38,164.60 L146.69,164.60 L147.01,164.60 L147.33,164.60 L147.64,164.60 L147.96,164.60 L148.28,164.60 L148.59,164.60 L148.91,164.60 L149.22,164.60 L149.54,164.60 L149.86,164.60 L150.17,164.60 L150.49,164.60 L150.81,164.60 L151.12,164.60 L151.44,164.60 L151.76,164.60 L152.07,164.60 L152.39,164.60 L152.71,164.60 L153.02,164.60 L153.34,164.60 L153.66,164.60 L153.97,164.60 L154.29,164.60 L154.60,164.60 L154.92,164.60 L155.24,164.60 L155.55,164.60 L155.87,164.60 L156.19,164.60 L156.50,164.60 L156.82,164.60 L157.14,164.60 L157.45,164.60 L157.77,164.60 L158.09,164.60 L158.40,164.60 L158.72,164.60 L159.04,164.60 L159.35,164.60 L159.67,164.60 L159.98,164.60 L160.30,164.60 L160.62,164.60 L160.93,164.60 L161.25,164.60 L161.57,164.60 L161.88,164.60 L162.20,164.60 L162.52,164.60 L162.83,164.60 L163.15,164.60 L163.47,164.60 L163.78,164.60 L164.10,164.60 L164.42,164.60 L164.73,164.60 L165.05,164.60 L165.36,164.60 L165.68,164.60 L166.00,164.60 L166.31,164.60 L166.63,164.60 L166.95,164.60 L167.26,164.60 L167.58,164.60 L167.90,164.60 L168.21,164.60 L168.53,164.60 L168.85,164.60 L169.16,164.60 L169.48,164.60 L169.79,164.60 L170.11,164.60 L170.43,164.60 L170.74,164.60 L171.06,164.60 L171.38,164.60 L171.69,164.60 L172.01,164.60 L172.33,164.60 L172.64,164.60 L172.96,164.60 L173.28,164.60 L173.59,164.60 L173.91,164.60 L174.23,164.60 L174.54,164.60 L174.86,164.60 L175.17,164.60 L175.49,164.60 L175.81,164.60 L176.12,164.60 L176.44,164.60 L176.76,164.60 L177.07,164.60 L177.39,164.60 L177.71,164.60 L178.02,164.60 L178.34,164.60 L178.66,164.60 L178.97,164.60 L179.29,164.60 L179.61,164.60 L179.92,164.60 L180.24,164.60 L180.55,164.60 L180.87,164.60 L181.19,164.60 L181.50,164.60 L181.82,164.60 L182.14,164.60 L182.45,164.60 L182.77,164.60 L183.09,164.60 L183.40,164.60 L183.72,164.60 L184.04,164.60 L184.35,164.60 L184.67,164.60 L184.99,164.60 L185.30,164.60 L185.62,164.60 L185.93,164.60 L186.25,164.60 L186.57,164.60 L186.88,164.60 L187.20,164.60 L187.52,164.60 L187.83,164.60 L188.15,164.60 L188.47,164.60 L188.78,164.60 L189.10,164.60 L189.42,164.60 L189.73,164.60 L190.05,164.60 L190.36,164.60 L190.68,164.60 L191.00,164.60 L191.31,164.60 L191.63,164.60 L191.95,164.60 L192.26,164.60 L192.58,164.60 L192.90,164.60 L193.21,164.60 L193.53,164.60 L193.85,164.60 L194.16,164.60 L194.48,164.60 L194.80,164.60 L195.11,164.60 L195.43,164.60 L195.74,164.60 L196.06,164.60 L196.38,164.60 L196.69,164.60 L197.01,164.60 L197.33,164.60 L197.64,164.60 L197.96,164.60 L198.28,164.60 L198.59,164.60 L198.91,164.60 L199.23,164.60 L199.54,164.60 L199.86,164.60 L200.18,164.60 L200.49,164.60 L200.81,164.60 L201.12,164.60 L201.44,164.60 L201.76,164.60 L202.07,164.60 L202.39,164.60 L202.71,164.59 L203.02,164.59 L203.34,164.59 L203.66,164.59 L203.97,164.59 L204.29,164.59 L204.61,164.58 L204.92,164.58 L205.24,164.58 L205.56,164.58 L205.87,164.57 L206.19,164.57 L206.50,164.57 L206.82,164.57 L207.14,164.56 L207.45,164.56 L207.77,164.56 L208.09,164.55 L208.40,164.55 L208.72,164.55 L209.04,164.54 L209.35,164.54 L209.67,164.54 L209.99,164.53 L210.30,164.53 L210.62,164.52 L210.94,164.52 L211.25,164.52 L211.57,164.51 L211.88,164.51 L212.20,164.50 L212.52,164.50 L212.83,164.49 L213.15,164.49 L213.47,164.48 L213.78,164.48 L214.10,164.47 L214.42,164.47 L214.73,164.46 L215.05,164.46 L215.37,164.46 L215.68,164.45 L216.00,164.45 L216.31,164.44 L216.63,164.44 L216.95,164.43 L217.26,164.42 L217.58,164.42 L217.90,164.41 L218.21,164.41 L218.53,164.40 L218.85,164.40 L219.16,164.39 L219.48,164.39 L219.80,164.38 L220.11,164.38 L220.43,164.37 L220.75,164.37 L221.06,164.36 L221.38,164.36 L221.69,164.35 L222.01,164.35 L222.33,164.34 L222.64,164.34 L222.96,164.33 L223.28,164.33 L223.59,164.32 L223.91,164.32 L224.23,164.31 L224.54,164.31 L224.86,164.30 L225.18,164.30 L225.49,164.29 L225.81,164.29 L226.13,164.28 L226.44,164.28 L226.76,164.27 L227.07,164.27 L227.39,164.27 L227.71,164.26 L228.02,164.26 L228.34,164.25 L228.66,164.25 L228.97,164.24 L229.29,164.24 L229.61,164.24 L229.92,164.23 L230.24,164.23 L230.56,164.22 L230.87,164.22 L231.19,164.21 L231.51,164.21 L231.82,164.20 L232.14,164.20 L232.45,164.19 L232.77,164.19 L233.09,164.18 L233.40,164.18 L233.72,164.17 L234.04,164.16 L234.35,164.16 L234.67,164.15 L234.99,164.14 L235.30,164.14 L235.62,164.13 L235.94,164.12 L236.25,164.12 L236.57,164.11 L236.88,164.10 L237.20,164.09 L237.52,164.08 L237.83,164.07 L238.15,164.06 L238.47,164.05 L238.78,164.04 L239.10,164.03 L239.42,164.02 L239.73,164.01 L240.05,164.00 L240.37,163.98 L240.68,163.97 L241.00,163.94 L241.32,163.92 L241.63,163.89 L241.95,163.86 L242.26,163.83 L242.58,163.79 L242.90,163.76 L243.21,163.72 L243.53,163.68 L243.85,163.63 L244.16,163.59 L244.48,163.55 L244.80,163.50 L245.11,163.46 L245.43,163.41 L245.75,163.37 L246.06,163.33 L246.38,163.28 L246.70,163.24 L247.01,163.19 L247.33,163.15 L247.64,163.10 L247.96,163.05 L248.28,163.00 L248.59,162.95 L248.91,162.90 L249.23,162.84 L249.54,162.79 L249.86,162.73 L250.18,162.67 L250.49,162.61 L250.81,162.55 L251.13,162.49 L251.44,162.43 L251.76,162.36 L252.08,162.29 L252.39,162.22 L252.71,162.15 L253.02,162.08 L253.34,162.00 L253.66,161.92 L253.97,161.84 L254.29,161.75 L254.61,161.66 L254.92,161.57 L255.24,161.47 L255.56,161.37 L255.87,161.28 L256.19,161.17 L256.51,161.07 L256.82,160.97 L257.14,160.86 L257.46,160.75 L257.77,160.64 L258.09,160.53 L258.40,160.42 L258.72,160.31 L259.04,160.19 L259.35,160.07 L259.67,159.94 L259.99,159.80 L260.30,159.66 L260.62,159.52 L260.94,159.38 L261.25,159.23 L261.57,159.09 L261.89,158.94 L262.20,158.80 L262.52,158.67 L262.83,158.54 L263.15,158.41 L263.47,158.30 L263.78,158.19 L264.10,158.08 L264.42,157.97 L264.73,157.86 L265.05,157.75 L265.37,157.63 L265.68,157.52 L266.00,157.41 L266.32,157.30 L266.63,157.20 L266.95,157.11 L267.27,157.02 L267.58,156.94 L267.90,156.87 L268.21,156.81 L268.53,156.76 L268.85,156.72 L269.16,156.70 L269.48,156.70 L269.80,156.71 L270.11,156.73 L270.43,156.77 L270.75,156.82 L271.06,156.87 L271.38,156.94 L271.70,157.02 L272.01,157.10 L272.33,157.19 L272.65,157.29 L272.96,157.39 L273.28,157.50 L273.59,157.61 L273.91,157.73 L274.23,157.89 L274.54,158.09 L274.86,158.33 L275.18,158.59 L275.49,158.89 L275.81,159.20 L276.13,159.52 L276.44,159.85 L276.76,160.19 L277.08,160.52 L277.39,160.84 L277.71,161.16 L278.03,161.49 L278.34,161.83 L278.66,162.17 L278.97,162.53 L279.29,162.89 L279.61,163.26 L279.92,163.64 L280.24,164.02 L280.56,164.40 L280.87,164.79 L281.19,165.18 L281.51,165.58 L281.82,165.98 L282.14,166.39 L282.46,166.81 L282.77,167.23 L283.09,167.66 L283.41,168.09 L283.72,168.53 L284.04,168.97 L284.35,169.41 L284.67,169.86 L284.99,170.31 L285.30,170.76 L285.62,171.22 L285.94,171.68 L286.25,172.15 L286.57,172.62 L286.89,173.10 L287.20,173.59 L287.52,174.08 L287.84,174.58 L288.15,175.09 L288.47,175.60 L288.78,176.14 L289.10,176.69 L289.42,177.26 L289.73,177.84 L290.05,178.42 L290.37,178.99 L290.68,179.54 L291.00,180.09 L291.32,180.63 L291.63,181.17 L291.95,181.71 L292.27,182.23 L292.58,182.75 L292.90,183.26 L293.22,183.76 L293.53,184.24 L293.85,184.70 L294.16,185.16 L294.48,185.63 L294.80,186.11 L295.11,186.61 L295.43,187.15 L295.75,187.73 L296.06,188.32 L296.38,188.92 L296.70,189.51 L297.01,190.08 L297.33,190.60 L297.65,191.08 L297.96,191.52 L298.28,191.94 L298.60,192.35 L298.91,192.74 L299.23,193.12 L299.54,193.50 L299.86,193.87 L300.18,194.25 L300.49,194.64 L300.81,195.01 L301.13,195.39 L301.44,195.75 L301.76,196.11 L302.08,196.46 L302.39,196.80 L302.71,197.13 L303.03,197.46 L303.34,197.78 L303.66,198.09 L303.98,198.39 L304.29,198.68 L304.61,198.96 L304.92,199.23 L305.24,199.48 L305.56,199.72 L305.87,199.96 L306.19,200.20 L306.51,200.42 L306.82,200.65 L307.14,200.86 L307.46,201.06 L307.77,201.26 L308.09,201.44 L308.41,201.62 L308.72,201.79 L309.04,201.94 L309.35,202.09 L309.67,202.24 L309.99,202.38 L310.30,202.52 L310.62,202.64 L310.94,202.77 L311.25,202.89 L311.57,203.00 L311.89,203.11 L312.20,203.21 L312.52,203.31 L312.84,203.40 L313.15,203.48 L313.47,203.56 L313.79,203.63 L314.10,203.70 L314.42,203.77 L314.73,203.84 L315.05,203.91 L315.37,203.98 L315.68,204.06 L316.00,204.13 L316.32,204.21 L316.63,204.28 L316.95,204.36 L317.27,204.43 L317.58,204.51 L317.90,204.58 L318.22,204.65 L318.53,204.72 L318.85,204.79 L319.17,204.86 L319.48,204.92 L319.80,204.98 L320.11,205.03 L320.43,205.08 L320.75,205.12 L321.06,205.16 L321.38,205.20 L321.70,205.23 L322.01,205.26 L322.33,205.29 L322.65,205.32 L322.96,205.35 L323.28,205.38 L323.60,205.40 L323.91,205.43 L324.23,205.46 L324.55,205.48 L324.86,205.50 L325.18,205.52 L325.49,205.54 L325.81,205.56 L326.13,205.57 L326.44,205.58 L326.76,205.59 L327.08,205.60 L327.39,205.60 L327.71,205.60 L328.03,205.60 L328.34,205.60 L328.66,205.59 L328.98,205.59 L329.29,205.58 L329.61,205.57 L329.93,205.56 L330.24,205.55 L330.56,205.54 L330.87,205.53 L331.19,205.52 L331.51,205.51 L331.82,205.50 L332.14,205.48 L332.46,205.47 L332.77,205.45 L333.09,205.44 L333.41,205.43 L333.72,205.41 L334.04,205.40 L334.36,205.38 L334.67,205.37 L334.99,205.35 L335.30,205.34 L335.62,205.32 L335.94,205.30 L336.25,205.28 L336.57,205.26 L336.89,205.24 L337.20,205.21 L337.52,205.19 L337.84,205.17 L338.15,205.14 L338.47,205.12 L338.79,205.09 L339.10,205.07 L339.42,205.04 L339.74,205.01 L340.05,204.98 L340.37,204.95 L340.68,204.92 L341.00,204.89 L341.32,204.86 L341.63,204.83 L341.95,204.80 L342.27,204.77 L342.58,204.73 L342.90,204.70" stroke="#0000bf" stroke-width="2.05"/>
<path d="M58.40,24.35 L58.72,24.35 L59.03,24.35 L59.35,24.34 L59.67,24.34 L59.98,24.33 L60.30,24.32 L60.62,24.31 L60.93,24.30 L61.25,24.28 L61.56,24.27 L61.88,24.25 L62.20,24.24 L62.51,24.22 L62.83,24.20 L63.15,24.18 L63.46,24.16 L63.78,24.13 L64.10,24.11 L64.41,24.09 L64.73,24.06 L65.05,24.04 L65.36,24.01 L65.68,23.98 L66.00,23.96 L66.31,23.93 L66.63,23.90 L66.94,23.87 L67.26,23.84 L67.58,23.81 L67.89,23.77 L68.21,23.73 L68.53,23.68 L68.84,23.62 L69.16,23.56 L69.48,23.50 L69.79,23.43 L70.11,23.36 L70.43,23.29 L70.74,23.21 L71.06,23.14 L71.37,23.06 L71.69,22.98 L72.01,22.90 L72.32,22.82 L72.64,22.74 L72.96,22.66 L73.27,22.58 L73.59,22.50 L73.91,22.43 L74.22,22.36 L74.54,22.28 L74.86,22.22 L75.17,22.15 L75.49,22.08 L75.81,22.00 L76.12,21.93 L76.44,21.85 L76.75,21.78 L77.07,21.70 L77.39,21.62 L77.70,21.55 L78.02,21.47 L78.34,21.40 L78.65,21.32 L78.97,21.25 L79.29,21.18 L79.60,21.11 L79.92,21.04 L80.24,20.98 L80.55,20.92 L80.87,20.86 L81.19,20.80 L81.50,20.75 L81.82,20.70 L82.13,20.66 L82.45,20.62 L82.77,20.58 L83.08,20.53 L83.40,20.49 L83.72,20.45 L84.03,20.41 L84.35,20.37 L84.67,20.34 L84.98,20.30 L85.30,20.27 L85.62,20.24 L85.93,20.21 L86.25,20.19 L86.57,20.17 L86.88,20.16 L87.20,20.15 L87.51,20.15 L87.83,20.15 L88.15,20.17 L88.46,20.18 L88.78,20.21 L89.10,20.24 L89.41,20.27 L89.73,20.31 L90.05,20.35 L90.36,20.39 L90.68,20.44 L91.00,20.49 L91.31,20.54 L91.63,20.59 L91.95,20.63 L92.26,20.68 L92.58,20.73 L92.89,20.77 L93.21,20.81 L93.53,20.84 L93.84,20.88 L94.16,20.90 L94.48,20.93 L94.79,20.94 L95.11,20.95 L95.43,20.95 L95.74,20.95 L96.06,20.95 L96.38,20.95 L96.69,20.95 L97.01,20.95 L97.32,20.95 L97.64,20.95 L97.96,20.95 L98.27,20.95 L98.59,20.95 L98.91,20.95 L99.22,20.95 L99.54,20.95 L99.86,20.95 L100.17,20.95 L100.49,20.95 L100.81,20.95 L101.12,20.95 L101.44,20.95 L101.76,20.95 L102.07,20.95 L102.39,20.95 L102.70,20.95 L103.02,20.95 L103.34,20.94 L103.65,20.92 L103.97,20.90 L104.29,20.87 L104.60,20.84 L104.92,20.81 L105.24,20.77 L105.55,20.74 L105.87,20.70 L106.19,20.66 L106.50,20.62 L106.82,20.59 L107.14,20.56 L107.45,20.53 L107.77,20.50 L108.08,20.48 L108.40,20.46 L108.72,20.45 L109.03,20.45 L109.35,20.45 L109.67,20.46 L109.98,20.47 L110.30,20.48 L110.62,20.50 L110.93,20.52 L111.25,20.55 L111.57,20.58 L111.88,20.61 L112.20,20.64 L112.52,20.67 L112.83,20.71 L113.15,20.77 L113.46,20.86 L113.78,20.98 L114.10,21.13 L114.41,21.29 L114.73,21.47 L115.05,21.66 L115.36,21.87 L115.68,22.08 L116.00,22.30 L116.31,22.52 L116.63,22.74 L116.95,22.98 L117.26,23.25 L117.58,23.53 L117.89,23.84 L118.21,24.16 L118.53,24.50 L118.84,24.85 L119.16,25.22 L119.48,25.60 L119.79,25.99 L120.11,26.42 L120.43,26.87 L120.74,27.35 L121.06,27.85 L121.38,28.37 L121.69,28.91 L122.01,29.45 L122.33,30.00 L122.64,30.56 L122.96,31.12 L123.27,31.70 L123.59,32.31 L123.91,32.93 L124.22,33.56 L124.54,34.20 L124.86,34.84 L125.17,35.49 L125.49,36.13 L125.81,36.76 L126.12,37.39 L126.44,37.99 L126.76,38.59 L127.07,39.19 L127.39,39.80 L127.71,40.43 L128.02,41.10 L128.34,41.81 L128.65,42.57 L128.97,43.38 L129.29,44.23 L129.60,45.13 L129.92,46.06 L130.24,47.01 L130.55,47.99 L130.87,48.98 L131.19,49.97 L131.50,50.97 L131.82,51.96 L132.14,52.94 L132.45,53.90 L132.77,54.84 L133.09,55.79 L133.40,56.73 L133.72,57.68 L134.03,58.64 L134.35,59.59 L134.67,60.55 L134.98,61.51 L135.30,62.48 L135.62,63.45 L135.93,64.43 L136.25,65.40 L136.57,66.37 L136.88,67.35 L137.20,68.34 L137.52,69.33 L137.83,70.34 L138.15,71.36 L138.47,72.40 L138.78,73.45 L139.10,74.54 L139.41,75.66 L139.73,76.79 L140.05,77.94 L140.36,79.10 L140.68,80.26 L141.00,81.42 L141.31,82.58 L141.63,83.72 L141.95,84.85 L142.26,85.95 L142.58,87.02 L142.90,88.09 L143.21,89.15 L143.53,90.20 L143.84,91.24 L144.16,92.26 L144.48,93.27 L144.79,94.27 L145.11,95.24 L145.43,96.18 L145.74,97.10 L146.06,98.00 L146.38,98.87 L146.69,99.72 L147.01,100.56 L147.33,101.38 L147.64,102.19 L147.96,103.00 L148.28,103.81 L148.59,104.62 L148.91,105.43 L149.22,106.25 L149.54,107.06 L149.86,107.87 L150.17,108.68 L150.49,109.47 L150.81,110.25 L151.12,111.02 L151.44,111.77 L151.76,112.50 L152.07,113.20 L152.39,113.88 L152.71,114.54 L153.02,115.17 L153.34,115.80 L153.66,116.41 L153.97,117.01 L154.29,117.59 L154.60,118.15 L154.92,118.70 L155.24,119.23 L155.55,119.74 L155.87,120.22 L156.19,120.69 L156.50,121.13 L156.82,121.55 L157.14,121.96 L157.45,122.36 L157.77,122.74 L158.09,123.11 L158.40,123.46 L158.72,123.80 L159.04,124.13 L159.35,124.44 L159.67,124.74 L159.98,125.02 L160.30,125.29 L160.62,125.56 L160.93,125.83 L161.25,126.08 L161.57,126.33 L161.88,126.57 L162.20,126.79 L162.52,127.00 L162.83,127.20 L163.15,127.39 L163.47,127.56 L163.78,127.73 L164.10,127.90 L164.42,128.06 L164.73,128.22 L165.05,128.39 L165.36,128.55 L165.68,128.71 L166.00,128.88 L166.31,129.04 L166.63,129.20 L166.95,129.37 L167.26,129.55 L167.58,129.72 L167.90,129.90 L168.21,130.09 L168.53,130.29 L168.85,130.49 L169.16,130.69 L169.48,130.90 L169.79,131.10 L170.11,131.30 L170.43,131.50 L170.74,131.69 L171.06,131.87 L171.38,132.04 L171.69,132.21 L172.01,132.38 L172.33,132.56 L172.64,132.73 L172.96,132.91 L173.28,133.09 L173.59,133.27 L173.91,133.46 L174.23,133.65 L174.54,133.84 L174.86,134.03 L175.17,134.21 L175.49,134.40 L175.81,134.57 L176.12,134.75 L176.44,134.91 L176.76,135.07 L177.07,135.22 L177.39,135.35 L177.71,135.48 L178.02,135.61 L178.34,135.73 L178.66,135.84 L178.97,135.96 L179.29,136.07 L179.61,136.17 L179.92,136.28 L180.24,136.38 L180.55,136.47 L180.87,136.57 L181.19,136.66 L181.50,136.75 L181.82,136.83 L182.14,136.91 L182.45,137.00 L182.77,137.07 L183.09,137.15 L183.40,137.22 L183.72,137.29 L184.04,137.36 L184.35,137.43 L184.67,137.49 L184.99,137.55 L185.30,137.60 L185.62,137.66 L185.93,137.71 L186.25,137.76 L186.57,137.80 L186.88,137.85 L187.20,137.89 L187.52,137.93 L187.83,137.97 L188.15,138.00 L188.47,138.04 L188.78,138.07 L189.10,138.11 L189.42,138.14 L189.73,138.17 L190.05,138.20 L190.36,138.24 L190.68,138.27 L191.00,138.30 L191.31,138.32 L191.63,138.35 L191.95,138.38 L192.26,138.40 L192.58,138.43 L192.90,138.45 L193.21,138.47 L193.53,138.49 L193.85,138.51 L194.16,138.53 L194.48,138.54 L194.80,138.55 L195.11,138.57 L195.43,138.58 L195.74,138.59 L196.06,138.59 L196.38,138.60 L196.69,138.60 L197.01,138.60 L197.33,138.61 L197.64,138.61 L197.96,138.61 L198.28,138.62 L198.59,138.62 L198.91,138.62 L199.23,138.62 L199.54,138.62 L199.86,138.62 L200.18,138.62 L200.49,138.62 L200.81,138.62 L201.12,138.62 L201.44,138.61 L201.76,138.61 L202.07,138.60 L202.39,138.60 L202.71,138.59 L203.02,138.58 L203.34,138.58 L203.66,138.57 L203.97,138.56 L204.29,138.55 L204.61,138.55 L204.92,138.54 L205.24,138.53 L205.56,138.52 L205.87,138.51 L206.19,138.50 L206.50,138.49 L206.82,138.47 L207.14,138.46 L207.45,138.44 L207.77,138.42 L208.09,138.40 L208.40,138.37 L208.72,138.34 L209.04,138.29 L209.35,138.24 L209.67,138.18 L209.99,138.12 L210.30,138.06 L210.62,137.99 L210.94,137.92 L211.25,137.86 L211.57,137.79 L211.88,137.73 L212.20,137.67 L212.52,137.62 L212.83,137.57 L213.15,137.52 L213.47,137.46 L213.78,137.41 L214.10,137.35 L214.42,137.30 L214.73,137.25 L215.05,137.19 L215.37,137.14 L215.68,137.09 L216.00,137.04 L216.31,136.99 L216.63,136.94 L216.95,136.90 L217.26,136.86 L217.58,136.82 L217.90,136.78 L218.21,136.75 L218.53,136.73 L218.85,136.70 L219.16,136.69 L219.48,136.68 L219.80,136.68 L220.11,136.68 L220.43,136.69 L220.75,136.70 L221.06,136.72 L221.38,136.74 L221.69,136.76 L222.01,136.79 L222.33,136.83 L222.64,136.86 L222.96,136.90 L223.28,136.94 L223.59,136.98 L223.91,137.02 L224.23,137.08 L224.54,137.14 L224.86,137.23 L225.18,137.32 L225.49,137.42 L225.81,137.53 L226.13,137.65 L226.44,137.78 L226.76,137.91 L227.07,138.05 L227.39,138.20 L227.71,138.34 L228.02,138.49 L228.34,138.65 L228.66,138.80 L228.97,138.96 L229.29,139.13 L229.61,139.31 L229.92,139.50 L230.24,139.70 L230.56,139.91 L230.87,140.13 L231.19,140.35 L231.51,140.59 L231.82,140.82 L232.14,141.06 L232.45,141.31 L232.77,141.56 L233.09,141.82 L233.40,142.10 L233.72,142.38 L234.04,142.68 L234.35,142.99 L234.67,143.30 L234.99,143.63 L235.30,143.96 L235.62,144.29 L235.94,144.63 L236.25,144.97 L236.57,145.31 L236.88,145.65 L237.20,145.99 L237.52,146.33 L237.83,146.66 L238.15,146.99 L238.47,147.32 L238.78,147.65 L239.10,147.99 L239.42,148.33 L239.73,148.68 L240.05,149.02 L240.37,149.37 L240.68,149.71 L241.00,150.05 L241.32,150.38 L241.63,150.71 L241.95,151.04 L242.26,151.36 L242.58,151.67 L242.90,151.97 L243.21,152.27 L243.53,152.56 L243.85,152.84 L244.16,153.12 L244.48,153.38 L244.80,153.64 L245.11,153.89 L245.43,154.14 L245.75,154.40 L246.06,154.65 L246.38,154.89 L246.70,155.14 L247.01,155.37 L247.33,155.61 L247.64,155.83 L247.96,156.05 L248.28,156.27 L248.59,156.48 L248.91,156.68 L249.23,156.87 L249.54,157.05 L249.86,157.23 L250.18,157.39 L250.49,157.55 L250.81,157.69 L251.13,157.83 L251.44,157.96 L251.76,158.09 L252.08,158.22 L252.39,158.34 L252.71,158.45 L253.02,158.56 L253.34,158.65 L253.66,158.75 L253.97,158.83 L254.29,158.91 L254.61,158.98 L254.92,159.04 L255.24,159.09 L255.56,159.14 L255.87,159.18 L256.19,159.21 L256.51,159.23 L256.82,159.25 L257.14,159.26 L257.46,159.27 L257.77,159.27 L258.09,159.27 L258.40,159.27 L258.72,159.27 L259.04,159.25 L259.35,159.23 L259.67,159.20 L259.99,159.16 L260.30,159.11 L260.62,159.06 L260.94,159.00 L261.25,158.94 L261.57,158.87 L261.89,158.79 L262.20,158.72 L262.52,158.65 L262.83,158.57 L263.15,158.50 L263.47,158.43 L263.78,158.36 L264.10,158.30 L264.42,158.23 L264.73,158.16 L265.05,158.08 L265.37,158.01 L265.68,157.93 L266.00,157.85 L266.32,157.78 L266.63,157.71 L266.95,157.64 L267.27,157.58 L267.58,157.52 L267.90,157.48 L268.21,157.44 L268.53,157.41 L268.85,157.39 L269.16,157.39 L269.48,157.40 L269.80,157.42 L270.11,157.46 L270.43,157.50 L270.75,157.56 L271.06,157.63 L271.38,157.71 L271.70,157.80 L272.01,157.89 L272.33,157.99 L272.65,158.10 L272.96,158.21 L273.28,158.32 L273.59,158.44 L273.91,158.57 L274.23,158.73 L274.54,158.94 L274.86,159.18 L275.18,159.45 L275.49,159.74 L275.81,160.05 L276.13,160.38 L276.44,160.71 L276.76,161.04 L277.08,161.37 L277.39,161.69 L277.71,162.01 L278.03,162.33 L278.34,162.66 L278.66,163.00 L278.97,163.35 L279.29,163.71 L279.61,164.07 L279.92,164.44 L280.24,164.81 L280.56,165.19 L280.87,165.57 L281.19,165.95 L281.51,166.34 L281.82,166.73 L282.14,167.13 L282.46,167.54 L282.77,167.95 L283.09,168.37 L283.41,168.79 L283.72,169.21 L284.04,169.64 L284.35,170.07 L284.67,170.51 L284.99,170.95 L285.30,171.39 L285.62,171.83 L285.94,172.28 L286.25,172.74 L286.57,173.20 L286.89,173.67 L287.20,174.14 L287.52,174.62 L287.84,175.11 L288.15,175.60 L288.47,176.11 L288.78,176.64 L289.10,177.18 L289.42,177.74 L289.73,178.31 L290.05,178.88 L290.37,179.44 L290.68,179.99 L291.00,180.52 L291.32,181.06 L291.63,181.59 L291.95,182.11 L292.27,182.63 L292.58,183.14 L292.90,183.64 L293.22,184.13 L293.53,184.60 L293.85,185.05 L294.16,185.50 L294.48,185.96 L294.80,186.43 L295.11,186.92 L295.43,187.45 L295.75,188.02 L296.06,188.60 L296.38,189.19 L296.70,189.77 L297.01,190.33 L297.33,190.84 L297.65,191.31 L297.96,191.74 L298.28,192.16 L298.60,192.55 L298.91,192.93 L299.23,193.30 L299.54,193.67 L299.86,194.04 L300.18,194.41 L300.49,194.78 L300.81,195.15 L301.13,195.51 L301.44,195.87 L301.76,196.22 L302.08,196.56 L302.39,196.89 L302.71,197.21 L303.03,197.53 L303.34,197.84 L303.66,198.14 L303.98,198.43 L304.29,198.72 L304.61,198.99 L304.92,199.24 L305.24,199.48 L305.56,199.72 L305.87,199.96 L306.19,200.20 L306.51,200.42 L306.82,200.65 L307.14,200.86 L307.46,201.06 L307.77,201.26 L308.09,201.44 L308.41,201.62 L308.72,201.79 L309.04,201.94 L309.35,202.09 L309.67,202.24 L309.99,202.38 L310.30,202.52 L310.62,202.64 L310.94,202.77 L311.25,202.89 L311.57,203.00 L311.89,203.11 L312.20,203.21 L312.52,203.31 L312.84,203.40 L313.15,203.48 L313.47,203.56 L313.79,203.63 L314.10,203.70 L314.42,203.77 L314.73,203.84 L315.05,203.91 L315.37,203.98 L315.68,204.06 L316.00,204.13 L316.32,204.21 L316.63,204.28 L316.95,204.36 L317.27,204.43 L317.58,204.51 L317.90,204.58 L318.22,204.65 L318.53,204.72 L318.85,204.79 L319.17,204.86 L319.48,204.92 L319.80,204.98 L320.11,205.03 L320.43,205.08 L320.75,205.12 L321.06,205.16 L321.38,205.20 L321.70,205.23 L322.01,205.26 L322.33,205.29 L322.65,205.32 L322.96,205.35 L323.28,205.38 L323.60,205.40 L323.91,205.43 L324.23,205.46 L324.55,205.48 L324.86,205.50 L325.18,205.52 L325.49,205.54 L325.81,205.56 L326.13,205.57 L326.44,205.58 L326.76,205.59 L327.08,205.60 L327.39,205.60 L327.71,205.60 L328.03,205.60 L328.34,205.60 L328.66,205.59 L328.98,205.59 L329.29,205.58 L329.61,205.57 L329.93,205.56 L330.24,205.55 L330.56,205.54 L330.87,205.53 L331.19,205.52 L331.51,205.51 L331.82,205.50 L332.14,205.48 L332.46,205.47 L332.77,205.45 L333.09,205.44 L333.41,205.43 L333.72,205.41 L334.04,205.40 L334.36,205.38 L334.67,205.37 L334.99,205.35 L335.30,205.34 L335.62,205.32 L335.94,205.30 L336.25,205.28 L336.57,205.26 L336.89,205.24 L337.20,205.21 L337.52,205.19 L337.84,205.17 L338.15,205.14 L338.47,205.12 L338.79,205.09 L339.10,205.07 L339.42,205.04 L339.74,205.01 L340.05,204.98 L340.37,204.95 L340.68,204.92 L341.00,204.89 L341.32,204.86 L341.63,204.83 L341.95,204.80 L342.27,204.77 L342.58,204.73 L342.90,204.70" stroke="#000000" stroke-width="2.05"/>
</g>
<path d="M58.40,220.0v-5.5M58.40,5.6v5.5 M72.67,220.0v-3.2M72.67,5.6v3.2 M81.02,220.0v-3.2M81.02,5.6v3.2 M86.95,220.0v-3.2M86.95,5.6v3.2 M91.54,220.0v-3.2M91.54,5.6v3.2 M95.30,220.0v-3.2M95.30,5.6v3.2 M98.47,220.0v-3.2M98.47,5.6v3.2 M101.22,220.0v-3.2M101.22,5.6v3.2 M103.65,220.0v-3.2M103.65,5.6v3.2 M105.82,220.0v-5.5M105.82,5.6v5.5 M120.09,220.0v-3.2M120.09,5.6v3.2 M128.44,220.0v-3.2M128.44,5.6v3.2 M134.36,220.0v-3.2M134.36,5.6v3.2 M138.96,220.0v-3.2M138.96,5.6v3.2 M142.71,220.0v-3.2M142.71,5.6v3.2 M145.89,220.0v-3.2M145.89,5.6v3.2 M148.64,220.0v-3.2M148.64,5.6v3.2 M151.06,220.0v-3.2M151.06,5.6v3.2 M153.23,220.0v-5.5M153.23,5.6v5.5 M167.51,220.0v-3.2M167.51,5.6v3.2 M175.86,220.0v-3.2M175.86,5.6v3.2 M181.78,220.0v-3.2M181.78,5.6v3.2 M186.38,220.0v-3.2M186.38,5.6v3.2 M190.13,220.0v-3.2M190.13,5.6v3.2 M193.31,220.0v-3.2M193.31,5.6v3.2 M196.05,220.0v-3.2M196.05,5.6v3.2 M198.48,220.0v-3.2M198.48,5.6v3.2 M200.65,220.0v-5.5M200.65,5.6v5.5 M214.92,220.0v-3.2M214.92,5.6v3.2 M223.27,220.0v-3.2M223.27,5.6v3.2 M229.20,220.0v-3.2M229.20,5.6v3.2 M233.79,220.0v-3.2M233.79,5.6v3.2 M237.55,220.0v-3.2M237.55,5.6v3.2 M240.72,220.0v-3.2M240.72,5.6v3.2 M243.47,220.0v-3.2M243.47,5.6v3.2 M245.90,220.0v-3.2M245.90,5.6v3.2 M248.07,220.0v-5.5M248.07,5.6v5.5 M262.34,220.0v-3.2M262.34,5.6v3.2 M270.69,220.0v-3.2M270.69,5.6v3.2 M276.61,220.0v-3.2M276.61,5.6v3.2 M281.21,220.0v-3.2M281.21,5.6v3.2 M284.96,220.0v-3.2M284.96,5.6v3.2 M288.14,220.0v-3.2M288.14,5.6v3.2 M290.89,220.0v-3.2M290.89,5.6v3.2 M293.31,220.0v-3.2M293.31,5.6v3.2 M295.48,220.0v-5.5M295.48,5.6v5.5 M309.76,220.0v-3.2M309.76,5.6v3.2 M318.11,220.0v-3.2M318.11,5.6v3.2 M324.03,220.0v-3.2M324.03,5.6v3.2 M328.63,220.0v-3.2M328.63,5.6v3.2 M332.38,220.0v-3.2M332.38,5.6v3.2 M335.56,220.0v-3.2M335.56,5.6v3.2 M338.30,220.0v-3.2M338.30,5.6v3.2 M340.73,220.0v-3.2M340.73,5.6v3.2 M342.90,220.0v-5.5M342.90,5.6v5.5 M58.4,220.09h3.2M342.9,220.09h-3.2 M58.4,212.14h3.2M342.9,212.14h-3.2 M58.4,204.20h5.5M342.9,204.20h-5.5 M58.4,196.26h3.2M342.9,196.26h-3.2 M58.4,188.31h3.2M342.9,188.31h-3.2 M58.4,180.37h3.2M342.9,180.37h-3.2 M58.4,172.42h3.2M342.9,172.42h-3.2 M58.4,164.48h5.5M342.9,164.48h-5.5 M58.4,156.54h3.2M342.9,156.54h-3.2 M58.4,148.59h3.2M342.9,148.59h-3.2 M58.4,140.65h3.2M342.9,140.65h-3.2 M58.4,132.70h3.2M342.9,132.70h-3.2 M58.4,124.76h5.5M342.9,124.76h-5.5 M58.4,116.82h3.2M342.9,116.82h-3.2 M58.4,108.87h3.2M342.9,108.87h-3.2 M58.4,100.93h3.2M342.9,100.93h-3.2 M58.4,92.98h3.2M342.9,92.98h-3.2 M58.4,85.04h5.5M342.9,85.04h-5.5 M58.4,77.10h3.2M342.9,77.10h-3.2 M58.4,69.15h3.2M342.9,69.15h-3.2 M58.4,61.21h3.2M342.9,61.21h-3.2 M58.4,53.26h3.2M342.9,53.26h-3.2 M58.4,45.32h5.5M342.9,45.32h-5.5 M58.4,37.38h3.2M342.9,37.38h-3.2 M58.4,29.43h3.2M342.9,29.43h-3.2 M58.4,21.49h3.2M342.9,21.49h-3.2 M58.4,13.54h3.2M342.9,13.54h-3.2 M58.4,5.60h5.5M342.9,5.60h-5.5" stroke="#000" stroke-width="1.2" fill="none"/>
<rect x="58.4" y="5.6" width="284.5" height="214.4" fill="none" stroke="#000" stroke-width="1.5"/>
<g font-family="Liberation Sans, sans-serif" font-size="14px" fill="#000" style="font-kerning:none" stroke-width="0.3">
<text x="54" y="208.70" text-anchor="end" stroke="#000">0</text>
<text x="54" y="168.98" text-anchor="end" stroke="#000">1</text>
<text x="54" y="129.26" text-anchor="end" stroke="#000">2</text>
<text x="54" y="89.54" text-anchor="end" stroke="#000">3</text>
<text x="54" y="49.82" text-anchor="end" stroke="#000">4</text>
<text transform="translate(54,9.55) scale(1,0.89)" text-anchor="end" stroke="#000">5</text>
<text x="57.40" y="237.6" text-anchor="middle" stroke="#000">10<tspan font-size="10px" dy="-6.3">−2</tspan></text>
<text x="104.82" y="237.6" text-anchor="middle" stroke="#000">10<tspan font-size="10px" dy="-6.3">−1</tspan></text>
<text x="153.03" y="237.6" text-anchor="middle" stroke="#000">10<tspan font-size="10px" dy="-6.3">0</tspan></text>
<text x="200.45" y="237.6" text-anchor="middle" stroke="#000">10<tspan font-size="10px" dy="-6.3">1</tspan></text>
<text x="247.87" y="237.6" text-anchor="middle" stroke="#000">10<tspan font-size="10px" dy="-6.3">2</tspan></text>
<text x="295.28" y="237.6" text-anchor="middle" stroke="#000">10<tspan font-size="10px" dy="-6.3">3</tspan></text>
<text x="342.70" y="237.6" text-anchor="middle" stroke="#000">10<tspan font-size="10px" dy="-6.3">4</tspan></text>
<text x="200.3" y="260.2" text-anchor="middle" stroke="#000"><tspan font-style="italic" font-size="15px">ω</tspan><tspan dx="-0.9" letter-spacing="0.26"> [TeV]</tspan></text>
<g transform="translate(35,113) rotate(-90)" stroke="#000"><text transform="translate(-25.2,0) scale(1.15,1)" font-style="italic">χ</text><text x="-14.0" y="0">[</text><text transform="translate(-8.4,0) scale(0.95,1)" font-style="italic">χ</text><text x="-0.3" y="2.1" font-size="10px">CMB</text><text x="21.4" y="0">]</text></g>
<text x="67.5" y="39.8" stroke="#000">Total</text>
<text x="67.5" y="114.8" fill="#007f00" stroke="#007f00">SL</text>
<text x="67.5" y="157.2" fill="#0000bf" stroke="#0000bf">CMB</text>
<text x="67.5" y="185.9" fill="#b2000f" stroke="#b2000f">IR</text>
</g>
</svg>
</body></html>
